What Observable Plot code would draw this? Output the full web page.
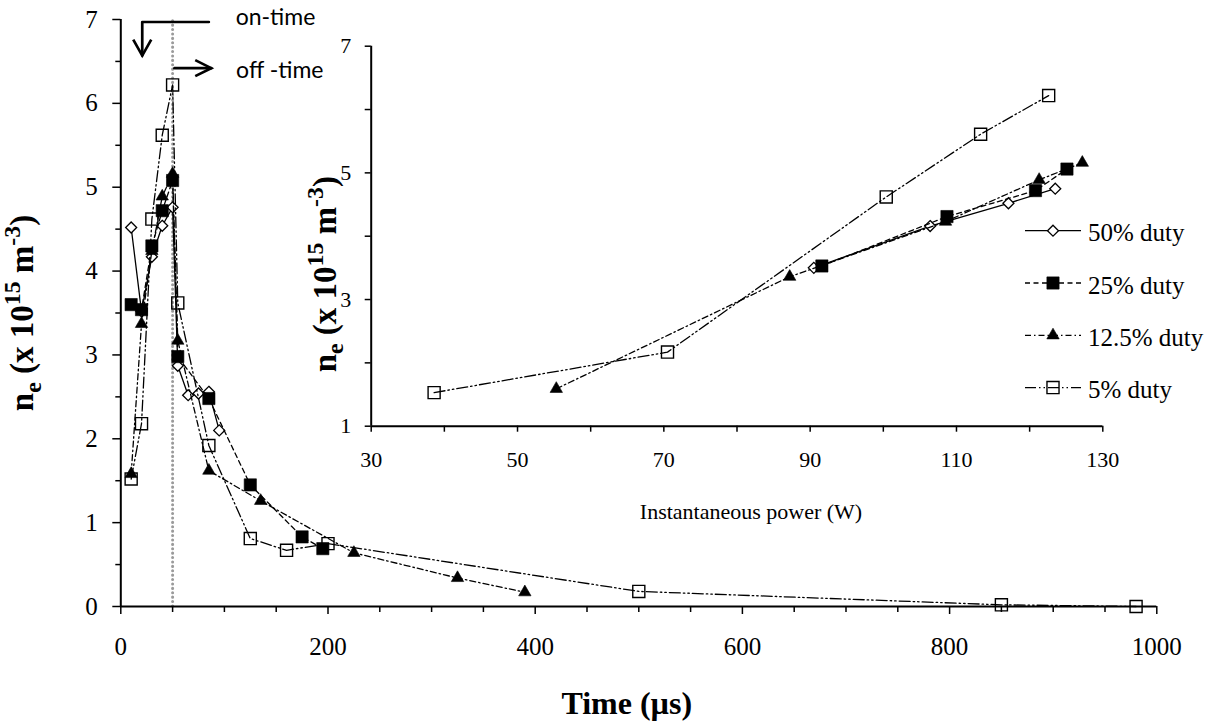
<!DOCTYPE html>
<html><head><meta charset="utf-8">
<script src="https://cdn.jsdelivr.net/npm/d3@7"></script>
<script src="https://cdn.jsdelivr.net/npm/@observablehq/plot@0.6"></script>
<style>
html,body{margin:0;padding:0;background:#fff;}
#chart{position:relative;width:1218px;height:727px;overflow:hidden;background:#fff;}
#chart svg{position:absolute;left:0;top:0;}
#chart g[aria-label="x-axis tick label"] text,
#chart g[aria-label="y-axis tick label"] text,
#chart .legend text{font-family:"Liberation Serif","Times New Roman",serif;}
</style></head><body><div id="chart"></div>
<script>
// ---------- data ----------
const duties = ["50% duty", "25% duty", "12.5% duty", "5% duty"];

// main chart: time (µs) vs ne (x10^15 m^-3)
const time50  = [10, 20, 30, 40, 50, 55, 65, 75, 85, 95];
const ne50    = [4.52, 3.52, 4.17, 4.54, 4.76, 2.87, 2.52, 2.54, 2.56, 2.10];
const time25  = [10, 20, 30, 40, 50, 55, 85, 125, 175, 195];
const ne25    = [3.60, 3.54, 4.30, 4.72, 5.08, 2.98, 2.48, 1.45, 0.83, 0.69];
const time125 = [10, 20, 30, 40, 50, 55, 85, 135, 225, 325, 390];
const ne125   = [1.58, 3.37, 4.24, 4.89, 5.16, 3.17, 1.62, 1.26, 0.64, 0.34, 0.17];
const time5   = [10, 20, 30, 40, 50, 55, 85, 125, 160, 200, 500, 850, 980];
const ne5     = [1.52, 2.18, 4.62, 5.62, 6.22, 3.62, 1.92, 0.81, 0.67, 0.75, 0.18, 0.02, 0.00];

// inset: instantaneous power (W) vs ne
const power50  = [90.5, 106.4, 117.1, 123.5];
const inset50  = [3.50, 4.16, 4.52, 4.75];
const power25  = [91.6, 108.7, 120.8, 125.1];
const inset25  = [3.53, 4.31, 4.72, 5.06];
const power125 = [55.3, 87.2, 108.5, 121.3, 127.2];
const inset125 = [1.59, 3.36, 4.23, 4.89, 5.16];
const power5   = [38.6, 70.5, 100.4, 113.3, 122.6];
const inset5   = [1.53, 2.17, 4.62, 5.61, 6.22];

// ticks
const mainTicksX  = [0, 200, 400, 600, 800, 1000];
const mainMinorX  = [50, 100, 150, 250, 300, 350, 450, 500, 550, 650, 700, 750, 850, 900, 950];
const mainTicksY  = [0, 1, 2, 3, 4, 5, 6, 7];
const mainMinorY  = [0.5, 1.5, 2.5, 3.5, 4.5, 5.5, 6.5];
const insetTicksX = [30, 50, 70, 90, 110, 130];
const insetMinorX = [40, 60, 80, 100, 120];
const insetTicksY = [1, 3, 5, 7];
const insetMinorY = [2, 4, 6];

// annotation (data units)
const onTime   = [50];
const onArrow  = [{time: 85, ne: 6.97}, {time: 20.7, ne: 6.97}, {time: 20.7, ne: 6.57}];
const offArrow = [{time: 51.8, ne: 6.42}, {time: 87.3, ne: 6.42}];
const notes    = [{label: "on-time", time: 110.9, ne: 7.02}, {label: "off -time", time: 111.3, ne: 6.39}];

// ---------- styles ----------
const seriesStyle = [
  {dash: null,                 symbol: d3.symbolDiamond2, r: 4.95, fill: "white", sw: 1.3},
  {dash: "5,3.5",              symbol: d3.symbolSquare,   r: 6.9,  fill: "black", sw: 0.6},
  {dash: "6,3,1.5,3",          symbol: d3.symbolTriangle, r: 4.6,  fill: "black", sw: 0.6},
  {dash: "11,3,1.5,3,1.5,3",   symbol: d3.symbolSquare,   r: 6.8,  fill: "none",  sw: 1.4}
];
const SERIF = "Liberation Serif, Times New Roman, serif";
const fmt = d => String(d);

function rows(xs, ys, i, xk, yk) {
  return xs.map((x, j) => ({duty: duties[i], [xk]: x, [yk]: ys[j]}));
}
function seriesMarks(data, s, xk, yk) {
  return [
    Plot.line(data, {x: xk, y: yk, stroke: "black", strokeWidth: 1.3, strokeDasharray: s.dash || undefined}),
    Plot.dot(data, {x: xk, y: yk, symbol: s.symbol, r: s.r, fill: s.fill, stroke: "black", strokeWidth: s.sw})
  ];
}

const mainData = [[time50, ne50], [time25, ne25], [time125, ne125], [time5, ne5]]
  .map(([t, n], i) => rows(t, n, i, "time", "ne"));
const insetData = [[power50, inset50], [power25, inset25], [power125, inset125], [power5, inset5]]
  .map(([p, n], i) => rows(p, n, i, "power", "ne"));

const chevronDown  = {draw(c) { c.moveTo(-9, -16); c.lineTo(0, 0); c.lineTo(9, -16); }};
const chevronRight = {draw(c) { c.moveTo(-16, -8); c.lineTo(0, 0); c.lineTo(-16, 8); }};

const yTitleParts = [["n"], ["e", "sub"], [" (x 10"], ["15", "sup"], [" m"], ["-3", "sup"], [")"]];
const yTitleKey = yTitleParts.map(p => p[0]).join("");

function axes(kind, minor, major, minorSize, majorSize, pad, fs) {
  const ax = kind === "x" ? Plot.axisX : Plot.axisY;
  return [
    ax(minor, {tickSize: minorSize, tickFormat: () => "", label: null, strokeWidth: 1.5}),
    ax(major, {tickSize: majorSize, tickPadding: pad, tickFormat: fmt, label: null, strokeWidth: 1.5, fontSize: fs})
  ];
}

// ---------- main plot ----------
const main = Plot.plot({
  width: 1218, height: 727,
  marginLeft: 120.3, marginRight: 61.7, marginTop: 19, marginBottom: 121,
  x: {domain: [0, 1000]},
  y: {domain: [0, 7]},
  style: {fontFamily: SERIF, fontSize: "25px", background: "transparent", color: "black", overflow: "visible"},
  marks: [
    Plot.ruleX(onTime, {y1: 0, y2: 7, stroke: "#9a9a9a", strokeWidth: 3, strokeDasharray: "0.1,4.3", strokeLinecap: "round"}),
    ...axes("y", mainMinorY, mainTicksY, 5, 8, 15, 25),
    ...axes("x", mainMinorX, mainTicksX, 6, 8, 23, 25),
    Plot.ruleX([0], {stroke: "black", strokeWidth: 2}),
    Plot.ruleY([0], {stroke: "black", strokeWidth: 2}),
    ...mainData.flatMap((d, i) => seriesMarks(d, seriesStyle[i], "time", "ne")),
    Plot.line(onArrow, {x: "time", y: "ne", stroke: "black", strokeWidth: 2.7}),
    Plot.line(offArrow, {x: "time", y: "ne", stroke: "black", strokeWidth: 2.7}),
    Plot.dot([onArrow[onArrow.length - 1]], {x: "time", y: "ne", symbol: chevronDown, r: 5, fill: "none", stroke: "black", strokeWidth: 2.7}),
    Plot.dot([offArrow[offArrow.length - 1]], {x: "time", y: "ne", symbol: chevronRight, r: 5, fill: "none", stroke: "black", strokeWidth: 2.7}),
    Plot.text(notes, {x: "time", y: "ne", text: "label", textAnchor: "start", fontFamily: "Lato, Open Sans, sans-serif", fontSize: 23}),
    Plot.text(["Time (µs)"], {frameAnchor: "bottom", dx: -12, dy: 107, lineAnchor: "bottom", fontWeight: "bold", fontSize: 32, fontFamily: SERIF}),
    Plot.text([yTitleKey], {frameAnchor: "left", textAnchor: "middle", rotate: -90, dx: -98, fontWeight: "bold", fontSize: 33, fontFamily: SERIF})
  ]
});

// ---------- inset plot ----------
const inset = Plot.plot({
  width: 1218, height: 727,
  marginLeft: 370.7, marginRight: 115.7, marginTop: 45.7, marginBottom: 301.3,
  x: {domain: [30, 130]},
  y: {domain: [1, 7]},
  style: {fontFamily: SERIF, fontSize: "22px", background: "transparent", color: "black", overflow: "visible"},
  marks: [
    ...axes("y", insetMinorY, insetTicksY, 6, 6, 14, 22),
    ...axes("x", insetMinorX, insetTicksX, 6, 6, 19, 22),
    Plot.ruleX([30], {stroke: "black", strokeWidth: 2}),
    Plot.ruleY([1], {stroke: "black", strokeWidth: 2}),
    ...insetData.flatMap((d, i) => seriesMarks(d, seriesStyle[i], "power", "ne")),
    Plot.text(["Instantaneous power (W)"], {frameAnchor: "bottom", dx: 14, dy: 93, lineAnchor: "bottom", fontSize: 22, fontFamily: SERIF}),
    Plot.text([yTitleKey], {frameAnchor: "left", textAnchor: "middle", rotate: -90, dx: -46, dy: 38, fontWeight: "bold", fontSize: 33, fontFamily: SERIF})
  ]
});

// rich text for the rotated titles (subscript / superscripts)
function richTitle(svg, key, parts, fs) {
  const t = Array.from(svg.querySelectorAll("text")).find(el => el.textContent === key);
  if (!t) return;
  t.textContent = "";
  let cur = 0;
  for (const [str, mode] of parts) {
    const ts = document.createElementNS("http://www.w3.org/2000/svg", "tspan");
    const target = mode === "sup" ? -0.40 * fs : mode === "sub" ? 0.22 * fs : 0;
    ts.setAttribute("dy", (target - cur).toFixed(2));
    cur = target;
    if (mode) ts.setAttribute("font-size", (0.72 * fs).toFixed(1));
    ts.textContent = str;
    t.appendChild(ts);
  }
}
richTitle(main, yTitleKey, yTitleParts, 33);
richTitle(inset, yTitleKey, yTitleParts, 33);

// ---------- legend ----------
const legend = d3.create("svg").attr("class", "legend").attr("width", 1218).attr("height", 727);
duties.forEach((name, i) => {
  const s = seriesStyle[i];
  const y = 230.7 + i * 52.3;
  legend.append("line").attr("x1", 1025).attr("x2", 1081).attr("y1", y).attr("y2", y)
    .attr("stroke", "black").attr("stroke-width", 1.3).attr("stroke-dasharray", s.dash);
  legend.append("path").attr("d", d3.symbol(s.symbol, s.r * s.r * Math.PI)())
    .attr("transform", `translate(1053,${y})`).attr("fill", s.fill).attr("stroke", "black").attr("stroke-width", s.sw);
  legend.append("text").attr("x", 1088).attr("y", y).attr("dy", "0.42em")
    .attr("font-size", 25).attr("fill", "black").text(name);
});

const root = document.getElementById("chart");
root.appendChild(main);
root.appendChild(inset);
root.appendChild(legend.node());
</script></body></html>
